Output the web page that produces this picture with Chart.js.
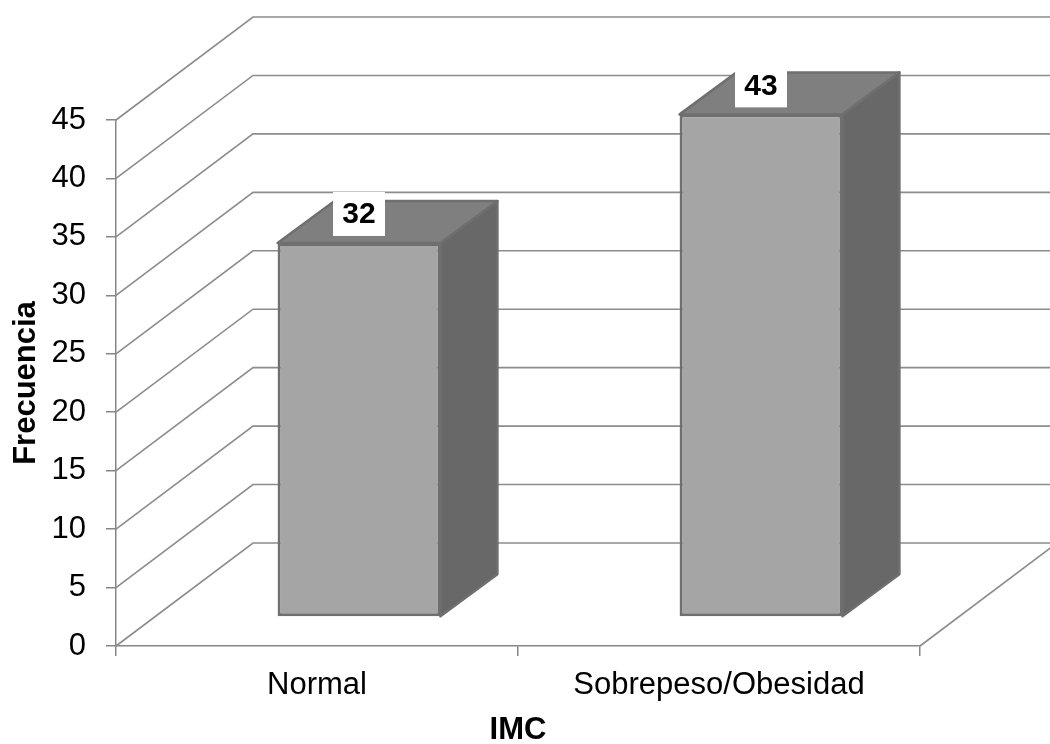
<!DOCTYPE html>
<html>
<head>
<meta charset="utf-8">
<script src="https://cdn.jsdelivr.net/npm/chart.js@4/dist/chart.umd.min.js"></script>
<style>
  html, body { margin: 0; padding: 0; background: #ffffff; }
  #wrap { width: 1050px; height: 744px; }
</style>
</head>
<body>
<div id="wrap"><canvas id="c" width="1050" height="744"></canvas></div>
<script>
// ---- data ----
const categories = ['Normal', 'Sobrepeso/Obesidad'];
const frecuencia = [32, 43];
const yMin = 0;
const yMax = 45;
const yStep = 5;
const yTitle = 'Frecuencia';
const xTitle = 'IMC';

// ---- 3D style constants ----
const WALL_DX = 137, WALL_DY = 103;   // depth of back wall
const BAR_SHIFT_X = 42, BAR_SHIFT_Y = 29; // bar placement inside depth
const BAR_DX = 57, BAR_DY = 42;       // bar depth
const GRID_COLOR = '#8c8c8c';
const FONT = '"Liberation Sans", Arial, sans-serif';

const threeD = {
  id: 'threeD',
  beforeDatasetsDraw(chart) {
    const ctx = chart.ctx;
    const ys = chart.scales.y;
    const left = chart.chartArea.left, right = chart.chartArea.right;
    const W = chart.width;
    ctx.save();
    ctx.strokeStyle = GRID_COLOR;
    ctx.lineWidth = 1.6;
    ys.ticks.forEach(t => {
      const y = ys.getPixelForValue(t.value);
      ctx.beginPath();
      ctx.moveTo(left, y);
      ctx.lineTo(left + WALL_DX, y - WALL_DY);
      ctx.lineTo(W + 5, y - WALL_DY);
      ctx.stroke();
    });
    // floor right edge
    const y0 = ys.getPixelForValue(yMin);
    ctx.beginPath();
    ctx.moveTo(right, y0);
    ctx.lineTo(right + WALL_DX, y0 - WALL_DY);
    ctx.stroke();
    ctx.restore();

    // shift for bars, draw side/top faces
    ctx.save();
    ctx.translate(BAR_SHIFT_X, -BAR_SHIFT_Y);
    const meta = chart.getDatasetMeta(0);
    meta.data.forEach(bar => {
      const p = bar.getProps(['x', 'y', 'base', 'width'], true);
      const l = p.x - p.width / 2, r = p.x + p.width / 2;
      const top = p.y, bot = p.base;
      ctx.lineJoin = 'round';
      ctx.strokeStyle = '#6f6f6f';
      ctx.lineWidth = 2.5;
      // side face
      ctx.beginPath();
      ctx.moveTo(r, top);
      ctx.lineTo(r + BAR_DX, top - BAR_DY);
      ctx.lineTo(r + BAR_DX, bot - BAR_DY);
      ctx.lineTo(r, bot);
      ctx.closePath();
      ctx.fillStyle = '#686868';
      ctx.fill();
      ctx.stroke();
      // top face
      ctx.beginPath();
      ctx.moveTo(l, top);
      ctx.lineTo(l + BAR_DX, top - BAR_DY);
      ctx.lineTo(r + BAR_DX, top - BAR_DY);
      ctx.lineTo(r, top);
      ctx.closePath();
      ctx.fillStyle = '#7f7f7f';
      ctx.fill();
      ctx.stroke();
    });
  },
  afterDatasetsDraw(chart) {
    const ctx = chart.ctx;
    ctx.restore();
    const meta = chart.getDatasetMeta(0);
    ctx.save();
    ctx.font = 'bold 30px ' + FONT;
    ctx.textAlign = 'center';
    ctx.textBaseline = 'middle';
    meta.data.forEach((bar, i) => {
      const cx = bar.x + BAR_SHIFT_X;
      const cy = bar.y - BAR_SHIFT_Y - 29;
      ctx.fillStyle = '#ffffff';
      ctx.fillRect(cx - 26, cy - 22, 52, 44);
      ctx.fillStyle = '#000000';
      ctx.fillText(String(frecuencia[i]), cx, cy + 1);
    });
    ctx.restore();
  }
};

new Chart(document.getElementById('c'), {
  type: 'bar',
  data: {
    labels: categories,
    datasets: [{
      data: frecuencia,
      backgroundColor: '#a5a5a5',
      borderColor: '#6f6f6f',
      borderWidth: 3,
      borderSkipped: false,
      categoryPercentage: 1,
      barPercentage: 0.405,
      clip: false
    }]
  },
  options: {
    responsive: false,
    animation: false,
    devicePixelRatio: 1,
    layout: { padding: { top: 120, right: 130, left: 0, bottom: 0 } },
    plugins: { legend: { display: false }, tooltip: { enabled: false } },
    scales: {
      y: {
        min: yMin, max: yMax,
        afterFit(s) { s.width = 116; },
        ticks: { stepSize: yStep, color: '#000', padding: 20,
                 font: { family: FONT, size: 31 } },
        grid: { drawOnChartArea: false, drawTicks: true, tickLength: 10, color: '#868686', lineWidth: 1.5 },
        border: { display: true, color: '#868686', width: 1.5 },
        title: { display: true, text: yTitle, color: '#000',
                 font: { family: FONT, size: 31, weight: 'bold', lineHeight: 1.0 },
                 padding: { top: 11, bottom: 0 } }
      },
      x: {
        afterFit(s) { s.height = 98; },
        ticks: { color: '#000', padding: 11,
                 font: { family: FONT, size: 31 } },
        grid: { drawOnChartArea: false, drawTicks: true, tickLength: 10, color: '#868686', lineWidth: 1.5, offset: true },
        border: { display: true, color: '#868686', width: 1.5 },
        title: { display: true, text: xTitle, color: '#000',
                 font: { family: FONT, size: 31, weight: 'bold', lineHeight: 0.8 },
                 padding: { top: 0, bottom: 1 } }
      }
    }
  },
  plugins: [threeD]
});
</script>
</body>
</html>
